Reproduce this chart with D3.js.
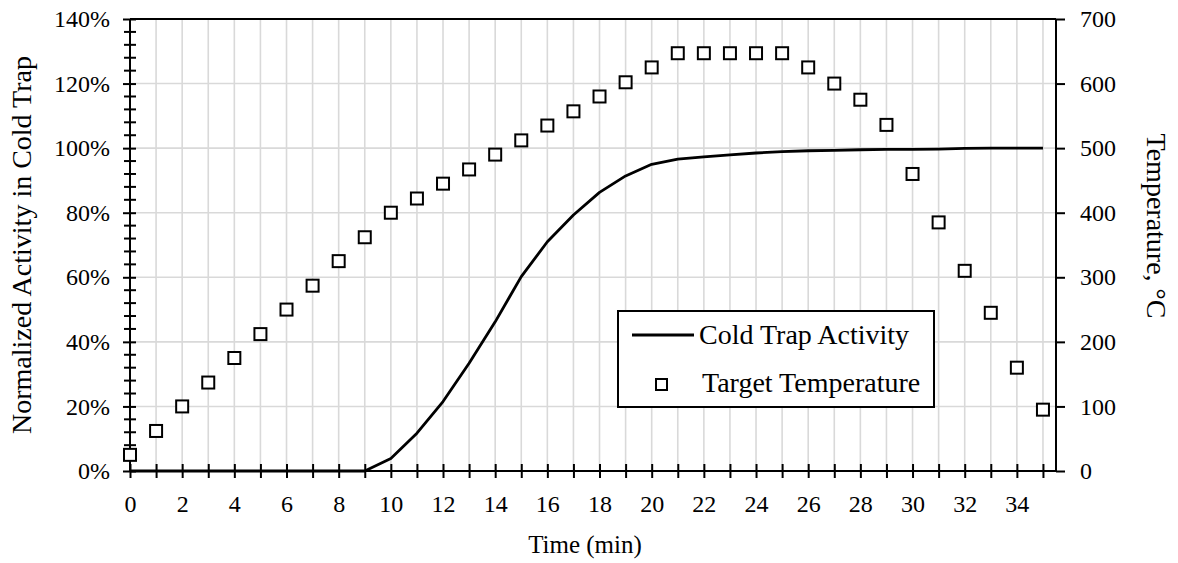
<!DOCTYPE html>
<html>
<head>
<meta charset="utf-8">
<script src="https://cdn.jsdelivr.net/npm/d3@7"></script>
<style>
  html, body { margin: 0; padding: 0; background: #fff; }
  svg { display: block; }
  svg text { font-family: "Liberation Serif", "Times New Roman", serif; }
</style>
</head>
<body>
<svg id="chart" width="1178" height="563"></svg>
<script>
const FONT = "'Liberation Serif', 'Times New Roman', serif";

// Time axis (min)
const timeMin = [0, 1, 2, 3, 4, 5, 6, 7, 8, 9, 10, 11, 12, 13, 14, 15, 16, 17,
                 18, 19, 20, 21, 22, 23, 24, 25, 26, 27, 28, 29, 30, 31, 32, 33, 34, 35];

// Normalized activity in cold trap (%)
const activity = [0, 0, 0, 0, 0, 0, 0, 0, 0, 0, 3.9, 11.7, 21.5, 33.4, 46.2, 60.2, 71.0, 79.3,
                  86.3, 91.4, 95.0, 96.6, 97.3, 97.9, 98.5, 98.9, 99.2, 99.3, 99.5, 99.6, 99.6, 99.7,
                  99.9, 100, 100, 100];

// Target temperature (°C)
const temperature = [25, 62, 100, 137, 175, 212, 250, 287, 325, 362, 400, 422, 445, 467, 490, 512,
                     535, 557, 580, 602, 625, 647, 647, 647, 647, 647, 625, 600, 575, 536, 460, 385,
                     310, 245, 160, 95];

const xTicks = [0, 2, 4, 6, 8, 10, 12, 14, 16, 18, 20, 22, 24, 26, 28, 30, 32, 34];
const leftTicks = [0, 20, 40, 60, 80, 100, 120, 140];
const leftMinor = [4, 8, 12, 16, 24, 28, 32, 36, 44, 48, 52, 56, 64, 68, 72, 76, 84, 88, 92, 96,
                   104, 108, 112, 116, 124, 128, 132, 136];
const rightTicks = [0, 100, 200, 300, 400, 500, 600, 700];

const seriesNames = ["Cold Trap Activity", "Target Temperature"];

const margin = { left: 130, top: 19, right: 1056, bottom: 471 };
const svg = d3.select("#chart");

svg.append("rect").attr("width", 1178).attr("height", 563).attr("fill", "#fff");

const x = d3.scaleLinear().domain([0, 35.5]).range([margin.left, margin.right]);
const yL = d3.scaleLinear().domain([0, 140]).range([margin.bottom, margin.top]);
const yR = d3.scaleLinear().domain([0, 700]).range([margin.bottom, margin.top]);

// gridlines
const grid = svg.append("g").attr("stroke", "#d9d9d9").attr("stroke-width", 1.6);
grid.selectAll(".vg").data(timeMin).join("line")
    .attr("x1", d => x(d)).attr("x2", d => x(d))
    .attr("y1", margin.top).attr("y2", margin.bottom);
grid.selectAll(".hg").data(leftTicks).join("line")
    .attr("x1", margin.left).attr("x2", margin.right)
    .attr("y1", d => yL(d)).attr("y2", d => yL(d));

// plot frame (top border)
svg.append("line")
    .attr("x1", margin.left).attr("x2", margin.right)
    .attr("y1", margin.top).attr("y2", margin.top)
    .attr("stroke", "#000").attr("stroke-width", 2);

// shared styling for the d3 axes
function styleAxis(g) {
    g.attr("font-family", FONT).attr("font-size", 24);
    g.select(".domain").attr("stroke-width", 2);
    g.selectAll(".tick line").attr("stroke-width", 2);
    g.selectAll(".tick text")
        .attr("font-family", FONT)
        .attr("font-size", 24)
        .attr("fill", "#000");
}

// bottom axis
const xAxis = svg.append("g")
    .attr("transform", `translate(0,${margin.bottom})`)
    .call(d3.axisBottom(x).tickValues(timeMin).tickSize(7).tickPadding(17)
        .tickFormat(d => xTicks.includes(d) ? d : ""))
    .call(styleAxis);
xAxis.select(".domain").attr("d", `M${margin.left},0H${margin.right}`);
xAxis.selectAll(".tick line").attr("y1", -7).attr("y2", 7);

// left axis
const yAxisL = svg.append("g")
    .attr("transform", `translate(${margin.left},0)`)
    .call(d3.axisLeft(yL).tickValues(leftTicks).tickSize(7).tickPadding(13)
        .tickFormat(d => d + "%"))
    .call(styleAxis);
yAxisL.select(".domain").attr("d", `M0,${margin.top}V${margin.bottom}`);
yAxisL.selectAll(".tick line").attr("x1", -7).attr("x2", 6);
yAxisL.selectAll(".minor").data(leftMinor).join("line")
    .attr("x1", -6).attr("x2", 6)
    .attr("y1", d => yL(d)).attr("y2", d => yL(d))
    .attr("stroke", "#000").attr("stroke-width", 2);

// right axis
const yAxisR = svg.append("g")
    .attr("transform", `translate(${margin.right},0)`)
    .call(d3.axisRight(yR).tickValues(rightTicks).tickSize(9).tickPadding(15))
    .call(styleAxis);
yAxisR.select(".domain").attr("d", `M0,${margin.top}V${margin.bottom}`);

// axis titles
svg.append("text")
    .attr("transform", "translate(21,245) rotate(-90)")
    .attr("text-anchor", "middle").attr("dy", "0.35em")
    .attr("font-size", 28)
    .text("Normalized Activity in Cold Trap");

svg.append("text")
    .attr("transform", "translate(1157,226) rotate(90)")
    .attr("text-anchor", "middle").attr("dy", "0.35em")
    .attr("font-size", 28)
    .text("Temperature, °C");

svg.append("text")
    .attr("x", 585).attr("y", 553)
    .attr("text-anchor", "middle")
    .attr("font-size", 25)
    .text("Time (min)");

// activity line
const line = d3.line()
    .x((d, i) => x(timeMin[i]))
    .y(d => yL(d));
svg.append("path")
    .datum(activity)
    .attr("d", line)
    .attr("fill", "none")
    .attr("stroke", "#000")
    .attr("stroke-width", 2.8)
    .attr("stroke-linejoin", "round");

// temperature markers
svg.append("g").selectAll("rect").data(temperature).join("rect")
    .attr("x", (d, i) => x(timeMin[i]) - 6)
    .attr("y", d => yR(d) - 6)
    .attr("width", 12).attr("height", 12)
    .attr("fill", "#fff").attr("stroke", "#000").attr("stroke-width", 2);

// legend
const lg = svg.append("g");
lg.append("rect")
    .attr("x", 618).attr("y", 311).attr("width", 316).attr("height", 96)
    .attr("fill", "#fff").attr("stroke", "#000").attr("stroke-width", 2);
lg.append("line")
    .attr("x1", 632).attr("x2", 694).attr("y1", 335).attr("y2", 335)
    .attr("stroke", "#000").attr("stroke-width", 2.8);
lg.append("text").attr("x", 699).attr("y", 344).attr("font-size", 28).text(seriesNames[0]);
lg.append("rect")
    .attr("x", 656).attr("y", 379).attr("width", 11).attr("height", 11)
    .attr("fill", "#fff").attr("stroke", "#000").attr("stroke-width", 2);
lg.append("text").attr("x", 702).attr("y", 392).attr("font-size", 28).text(seriesNames[1]);
</script>
</body>
</html>
